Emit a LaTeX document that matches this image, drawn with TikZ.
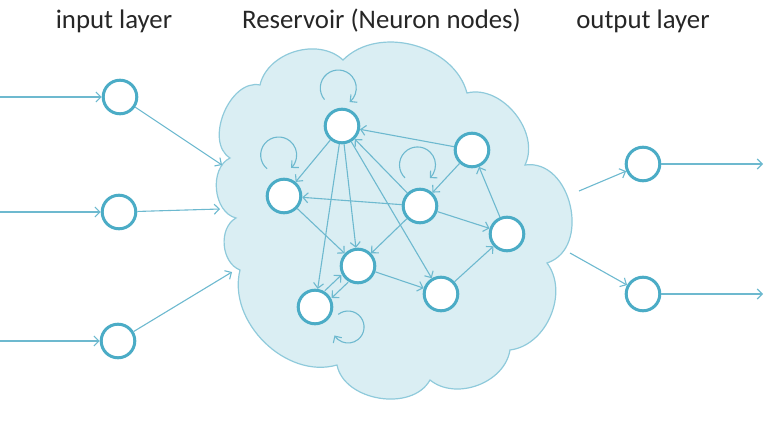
\documentclass[tikz,border=0pt]{standalone}
\usepackage{fontspec}
\setmainfont{Carlito}
\usetikzlibrary{arrows.meta}
\definecolor{nodeblue}{HTML}{4BACC6}
\definecolor{edgeblue}{HTML}{6DB9CF}
\definecolor{cloudfill}{HTML}{DAEEF3}
\definecolor{cloudline}{HTML}{8FCADB}
\definecolor{txt}{HTML}{262626}
\begin{document}
\begin{tikzpicture}[x=1pt,y=1pt,
 neuron/.style={circle, draw=nodeblue, line width=3pt, fill=white, minimum size=33.6pt, inner sep=0pt},
 arr/.style={draw=edgeblue, line width=1.1pt, -{Straight Barb[length=5pt,width=10pt]}},
 title/.style={font=\fontsize{26.8}{30}\selectfont, text=txt, anchor=base, inner sep=0pt},
 cloudshape/.style={fill=cloudfill, draw=cloudline, line width=1.2pt}]
\useasboundingbox (0,0) rectangle (777,424);

% titles
\node[title] (t1) at (114,395) {input layer};
\node[title] (t2) at (381.5,395) {Reservoir (Neuron nodes)};
\node[title] (t3) at (643,395) {output layer};

% cloud
\path[cloudshape] (260,339) to[out=77,in=137] (343,364) to[out=45,in=105] (467,331)
  to[out=14,in=64] (525,259) to[out=8,in=18,looseness=1.2] (547,161)
  to[out=-53,in=7] (510,74) to[out=261,in=321] (430,44) to[out=241,in=281] (337,59)
  to[out=196,in=256] (240,154) to[out=159,in=209] (236,206) to[out=166,in=206] (230,266)
  to[out=148,in=168] (260,339) -- cycle;

% reservoir neurons
\node[neuron] (A) at (342,298) {};
\node[neuron] (B) at (472,274) {};
\node[neuron] (C) at (284,228) {};
\node[neuron] (D) at (420,218) {};
\node[neuron] (E) at (507,190) {};
\node[neuron] (F) at (358,158) {};
\node[neuron] (G) at (315,117) {};
\node[neuron] (H) at (441,130) {};

% input / output neurons
\node[neuron] (I1) at (120,327) {};
\node[neuron] (I2) at (119,212) {};
\node[neuron] (I3) at (118,83) {};
\node[neuron] (O1) at (643,260) {};
\node[neuron] (O2) at (643,130) {};

% free ends
\coordinate (s1) at (0,327);
\coordinate (s2) at (0,212);
\coordinate (s3) at (0,83);
\coordinate (e1) at (222,259);
\coordinate (e2) at (220,215);
\coordinate (e3) at (232,152);
\coordinate (x1) at (579,233);
\coordinate (x2) at (570,171);
\coordinate (f1) at (763,260);
\coordinate (f2) at (763,130);

% input connections
\draw[arr] (s1) -- (I1);
\draw[arr] (s2) -- (I2);
\draw[arr] (s3) -- (I3);
\draw[arr] (I1) -- (e1);
\draw[arr] (I2) -- (e2);
\draw[arr] (I3) -- (e3);

% output connections
\draw[arr] (x1) -- (O1);
\draw[arr] (x2) -- (O2);
\draw[arr] (O1) -- (f1);
\draw[arr] (O2) -- (f2);

% reservoir connections
\draw[arr] (B) -- (A);
\draw[arr] (A) -- (C);
\draw[arr] (A) -- (G);
\draw[arr] (A) -- (F);
\draw[arr] (D) -- (A);
\draw[arr] (A) -- (H);
\draw[arr] (D) -- (C);
\draw[arr] (D) -- (F);
\draw[arr] (D) -- (E);
\draw[arr] (B) -- (D);
\draw[arr] (E) -- (B);
\draw[arr] (H) -- (E);
\draw[arr] (F) -- (H);
\draw[arr] (C) -- (F);
\draw[arr, transform canvas={shift={(-3.4,3.6)}}] (G) -- (F);
\draw[arr, transform canvas={shift={(3.4,-3.6)}}] (F) -- (G);

% self loops
\draw[arr] ([shift={(-17.5,26.4)}]A.center) arc[start angle=220, end angle=-51, radius=18];
\draw[arr] ([shift={(-16.9,27.2)}]C.center) arc[start angle=230, end angle=-46, radius=18];
\draw[arr] ([shift={(-15.0,28.1)}]D.center) arc[start angle=226, end angle=-47, radius=18];
\draw[arr] ([shift={(23.2,-7.4)}]G.center) arc[start angle=128, end angle=-148, radius=16];
\end{tikzpicture}
\end{document}
